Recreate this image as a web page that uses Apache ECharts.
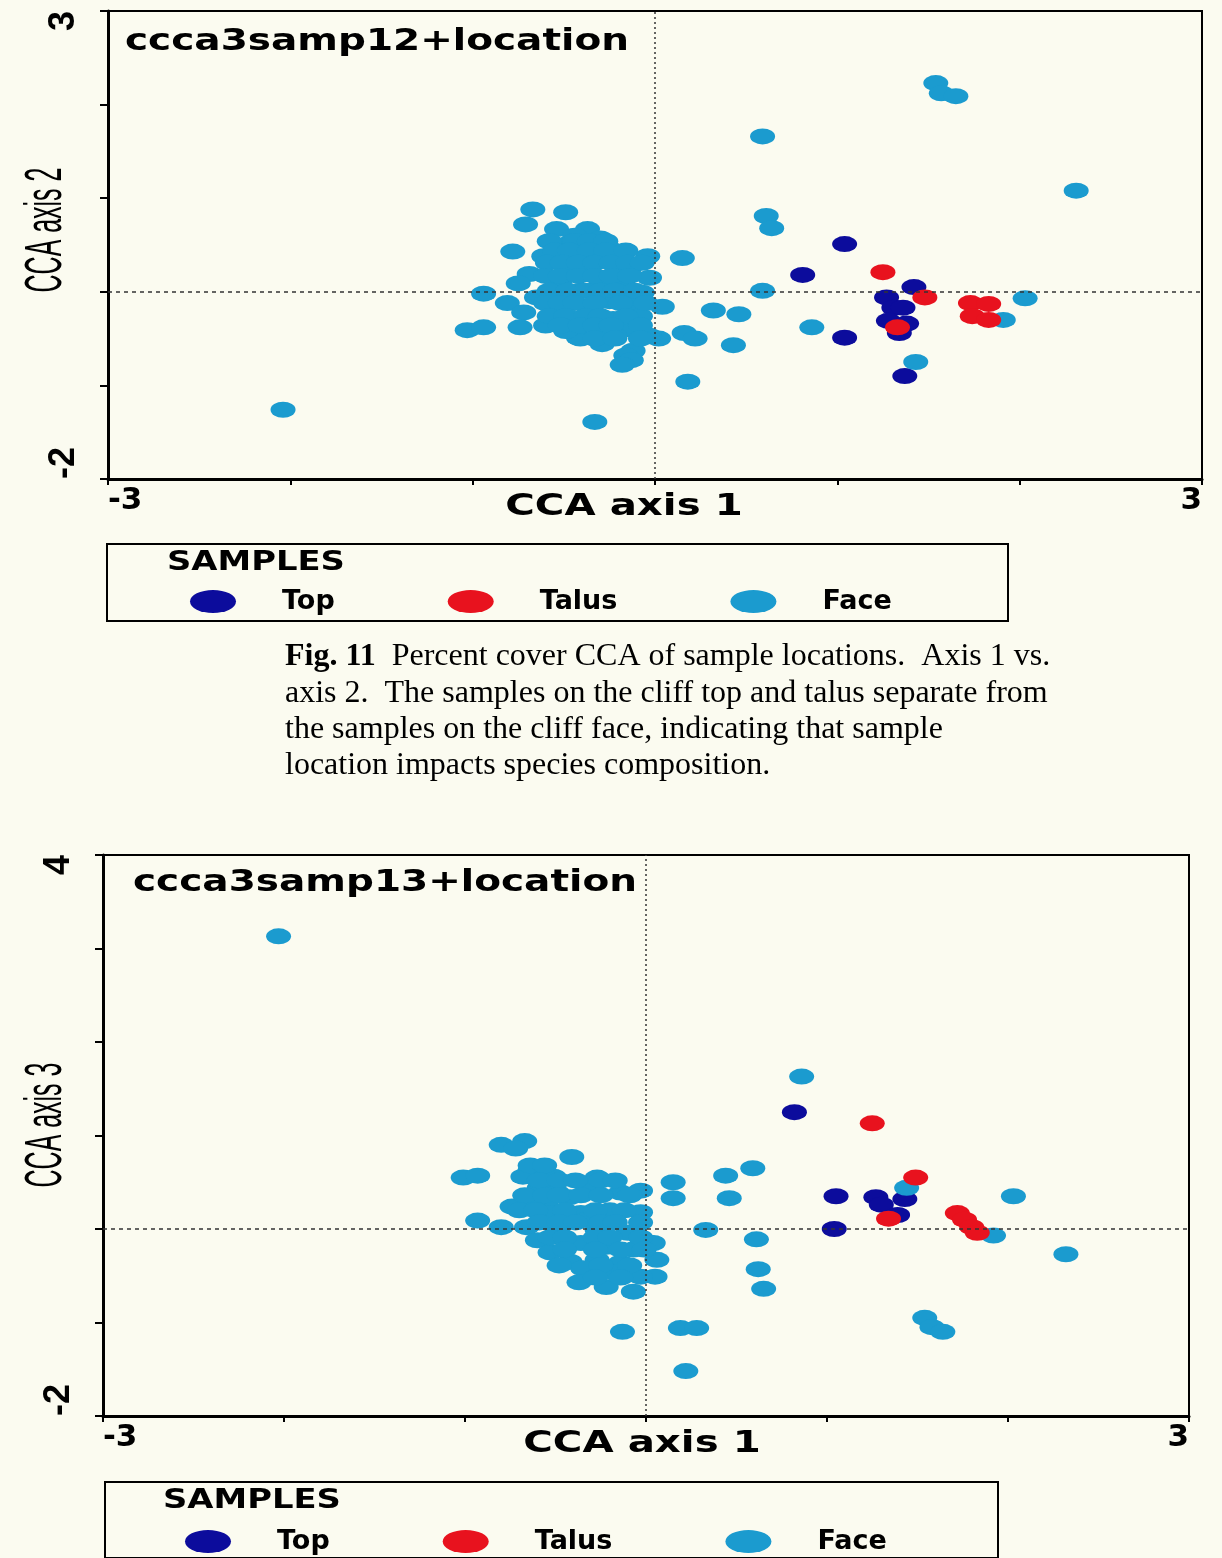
<!DOCTYPE html>
<html>
<head>
<meta charset="utf-8">
<script src="https://cdn.jsdelivr.net/npm/echarts@6/dist/echarts.min.js"></script>
<style>
  html, body { margin: 0; padding: 0; background: #fbfbf0; }
  #chart { width: 1222px; height: 1558px; }
</style>
</head>
<body>
<div id="chart"></div>
<script>
// CCA sample scores, axis 1 vs axis 2 (ccca3samp12)
var face12 = [
  [-2.04, -1.26], [-0.33, -1.39], [0.18, -0.96], [0.59, 1.66], [1.54, 2.23], [1.57, 2.12],
  [1.65, 2.09], [2.31, 1.08], [0.61, 0.81], [0.64, 0.68], [0.59, 0.01], [0.86, -0.38],
  [1.43, -0.75], [2.03, -0.07], [1.91, -0.30], [0.43, -0.57], [0.46, -0.24], [0.32, -0.20],
  [0.15, 0.36], [0.16, -0.44], [0.22, -0.50], [0.02, -0.50], [0.04, -0.16], [-0.04, 0.38],
  [-0.03, 0.15],
  [-0.67, 0.88], [-0.49, 0.85], [-0.71, 0.72], [-0.54, 0.67], [-0.37, 0.67], [-0.78, 0.43],
  [-0.30, 0.57], [-0.48, 0.51], [-0.61, 0.38], [-0.23, 0.44], [-0.69, 0.19], [-0.75, 0.09],
  [-0.14, 0.25], [-0.43, 0.25], [-0.30, 0.06], [-0.18, -0.01], [-0.52, -0.04], [-0.65, -0.06],
  [-0.81, -0.12], [-0.07, -0.01], [-0.12, -0.15], [-0.36, -0.18], [-0.54, -0.22], [-0.72, -0.22],
  [-0.23, -0.29], [-0.43, -0.29], [-0.74, -0.38], [-0.15, -0.40], [-0.03, -0.47], [-0.29, -0.47],
  [-0.42, -0.49], [-0.12, -0.63], [-0.94, -0.02], [-1.03, -0.41], [-0.94, -0.38], [-0.41, -0.50],
  [-0.29, -0.56], [-0.16, -0.68], [-0.13, -0.73], [-0.18, -0.78],
  [-0.38, 0.49], [-0.30, 0.38], [-0.52, 0.12], [-0.41, 0.01], [-0.25, -0.10], [-0.33, -0.31],
  [-0.22, -0.47], [-0.60, -0.36], [-0.49, -0.42], [-0.08, -0.26], [-0.58, 0.54], [-0.44, 0.60],
  [-0.19, 0.12],
  [-0.44, 0.54], [-0.36, 0.54], [-0.27, 0.54],
  [-0.55, 0.44], [-0.47, 0.44], [-0.36, 0.44], [-0.27, 0.44], [-0.16, 0.44],
  [-0.59, 0.31], [-0.51, 0.31], [-0.42, 0.31], [-0.33, 0.31], [-0.24, 0.31], [-0.15, 0.31], [-0.07, 0.31],
  [-0.60, 0.17], [-0.52, 0.17], [-0.42, 0.17], [-0.33, 0.17], [-0.24, 0.17], [-0.14, 0.17],
  [-0.58, 0.01], [-0.48, 0.01], [-0.38, 0.01], [-0.30, 0.01], [-0.22, 0.01], [-0.11, 0.01],
  [-0.60, -0.12], [-0.52, -0.12], [-0.44, -0.12], [-0.33, -0.12], [-0.19, -0.12], [-0.05, -0.12],
  [-0.58, -0.26], [-0.49, -0.26], [-0.38, -0.26], [-0.30, -0.26], [-0.16, -0.26],
  [-0.52, -0.36], [-0.41, -0.36], [-0.33, -0.36], [-0.24, -0.36], [-0.08, -0.36],
  [-0.33, -0.50], [-0.22, -0.50], [-0.08, -0.50]
];
var top12 = [
  [1.04, 0.51], [0.81, 0.18], [1.04, -0.49], [1.42, 0.05], [1.27, -0.06], [1.31, -0.17],
  [1.36, -0.17], [1.28, -0.31], [1.38, -0.34], [1.34, -0.44], [1.37, -0.90]
];
var talus12 = [
  [1.25, 0.21], [1.48, -0.06], [1.33, -0.38], [1.73, -0.12], [1.83, -0.13], [1.74, -0.26], [1.83, -0.30]
];

// CCA sample scores, axis 1 vs axis 3 (ccca3samp13)
var face13 = [
  [-2.03, 3.13], [0.86, 1.63], [0.59, 0.65], [0.44, 0.57], [0.15, 0.50], [0.15, 0.33],
  [0.46, 0.33], [1.44, 0.44], [1.92, -0.07], [2.03, 0.35], [2.32, -0.27], [0.33, -0.01],
  [0.61, -0.11], [0.62, -0.43], [0.65, -0.64], [0.19, -1.06], [0.28, -1.06], [1.54, -0.95],
  [1.58, -1.05], [1.64, -1.10], [0.04, -0.15], [0.06, -0.33], [0.05, -0.51], [0.22, -1.52],
  [-0.13, -1.10],
  [-0.80, 0.90], [-0.67, 0.94], [-0.72, 0.86], [-0.41, 0.77], [-1.01, 0.55], [-0.93, 0.57],
  [-0.64, 0.63], [-0.68, 0.56], [-0.51, 0.56], [-0.27, 0.55], [-0.03, 0.41], [-0.93, 0.09],
  [-0.80, 0.02], [-0.74, 0.24], [-0.59, 0.44], [-0.55, 0.29], [-0.42, 0.34], [-0.31, 0.42],
  [-0.14, 0.39], [-0.03, 0.18], [-0.20, 0.20], [-0.36, 0.17], [-0.53, 0.17], [-0.66, 0.02],
  [-0.49, -0.01], [-0.27, -0.01], [-0.10, -0.04], [0.02, -0.15], [-0.60, -0.12], [-0.53, -0.25],
  [-0.36, -0.15], [-0.22, -0.19], [-0.07, -0.22], [-0.42, -0.35], [-0.27, -0.33], [-0.14, -0.36],
  [-0.35, -0.42], [-0.18, -0.46], [-0.03, -0.51], [-0.37, -0.57], [-0.22, -0.62], [-0.07, -0.67],
  [-0.49, 0.39], [-0.33, 0.10], [-0.62, 0.31],
  [-0.64, 0.68], [-0.56, 0.68],
  [-0.59, 0.52], [-0.48, 0.52], [-0.39, 0.52], [-0.25, 0.52], [-0.17, 0.52],
  [-0.67, 0.36], [-0.56, 0.36], [-0.48, 0.36], [-0.36, 0.36], [-0.25, 0.36], [-0.09, 0.36],
  [-0.70, 0.20], [-0.61, 0.20], [-0.45, 0.20], [-0.28, 0.20], [-0.12, 0.20],
  [-0.59, 0.07], [-0.48, 0.07], [-0.39, 0.07], [-0.25, 0.07], [-0.17, 0.07], [-0.03, 0.07],
  [-0.53, -0.09], [-0.45, -0.09], [-0.28, -0.09], [-0.20, -0.09], [-0.03, -0.09],
  [-0.45, -0.22], [-0.28, -0.22], [-0.14, -0.22], [-0.01, -0.22],
  [-0.48, -0.39], [-0.25, -0.39], [-0.09, -0.39],
  [-0.28, -0.52], [-0.14, -0.52]
];
var top13 = [
  [0.82, 1.25], [1.05, 0.35], [1.27, 0.34], [1.30, 0.26], [1.43, 0.32], [1.39, 0.15], [1.04, 0.00]
];
var talus13 = [
  [1.25, 1.13], [1.49, 0.55], [1.34, 0.11], [1.72, 0.17], [1.76, 0.10], [1.80, 0.02], [1.83, -0.04]
];

var xTicks = [-3, 3];
var yTicks12 = [-2, 3];
var yTicks13 = [-2, 4];
var legendNames = ['Top', 'Talus', 'Face'];
var colors = { Top: '#0c0c9c', Talus: '#e8121e', Face: '#1b9bcf' };

var dot = 'path://M0,8A12,8 0 1,1 24,8A12,8 0 1,1 0,8Z';
var legendDot = 'path://M0,6A12,6 0 1,1 24,6A12,6 0 1,1 0,6Z';

var myChart = echarts.init(document.getElementById('chart'));

function xAxisFor(gi) {
  return {
    gridIndex: gi, type: 'value', min: xTicks[0], max: xTicks[1], interval: 1,
    axisLine: { show: true, onZero: false, lineStyle: { color: '#000', width: 3 } },
    axisTick: { show: true, length: 6, lineStyle: { color: '#000', width: 2 } },
    splitLine: { show: false },
    axisLabel: {
      formatter: function (v) { return xTicks.indexOf(v) >= 0 ? String(v) : ''; },
      showMinLabel: true, showMaxLabel: true,
      alignMinLabel: 'left', alignMaxLabel: 'right',
      fontFamily: 'DejaVu Sans', fontWeight: 'bold', fontSize: 31, color: '#000', margin: 6
    }
  };
}

function yAxisFor(gi, ticks) {
  return {
    gridIndex: gi, type: 'value', min: ticks[0], max: ticks[1], interval: 1,
    axisLine: { show: true, onZero: false, lineStyle: { color: '#000', width: 3 } },
    axisTick: { show: true, length: 8, lineStyle: { color: '#000', width: 2 } },
    splitLine: { show: false },
    axisLabel: {
      formatter: function (v) { return ticks.indexOf(v) >= 0 ? String(v) : ''; },
      showMinLabel: true, showMaxLabel: true,
      rotate: 90, alignMinLabel: 'left', alignMaxLabel: 'right',
      fontFamily: 'Liberation Sans', fontWeight: 'bold', fontSize: 36, color: '#000', margin: 26
    }
  };
}

function pts(name, data, gi, withLines) {
  var s = {
    name: name, type: 'scatter', xAxisIndex: gi, yAxisIndex: gi,
    data: data, symbol: dot, symbolSize: [25, 16], silent: true,
    itemStyle: { color: colors[name], opacity: 1 }
  };
  if (withLines) {
    s.markLine = {
      silent: true, symbol: ['none', 'none'], label: { show: false },
      lineStyle: { color: '#333', width: 1.5 },
      data: [
        { xAxis: 0, lineStyle: { type: [2, 3] } },
        { yAxis: 0, lineStyle: { type: [4, 4] } }
      ]
    };
  }
  return s;
}

function legendAt(left, top) {
  return {
    data: legendNames, left: left, top: top, orient: 'horizontal',
    icon: legendDot, itemWidth: 46, itemHeight: 24, itemGap: 113, selectedMode: false,
    textStyle: { fontFamily: 'DejaVu Sans', fontWeight: 'bold', fontSize: 27, color: '#000', padding: [0, 0, 0, 41] }
  };
}

function txt(x, y, text, font, extra) {
  var e = {
    type: 'text', x: x, y: y,
    style: { text: text, font: font, fill: '#000', align: 'left', verticalAlign: 'middle' }
  };
  for (var k in extra) e[k] = extra[k];
  return e;
}

var serifFont = '32px "Liberation Serif"';

myChart.setOption({
  backgroundColor: '#fbfbf0',
  animation: false,
  grid: [
    { left: 108, top: 11, width: 1094, height: 468, show: true, borderColor: '#000', borderWidth: 2, outerBoundsMode: 'none' },
    { left: 103, top: 855, width: 1086, height: 561, show: true, borderColor: '#000', borderWidth: 2, outerBoundsMode: 'none' }
  ],
  xAxis: [xAxisFor(0), xAxisFor(1)],
  yAxis: [yAxisFor(0, yTicks12), yAxisFor(1, yTicks13)],
  legend: [legendAt(185, 583), legendAt(180, 1523)],
  series: [
    pts('Top', top12, 0), pts('Face', face12, 0), pts('Talus', talus12, 0, true),
    pts('Top', top13, 1), pts('Face', face13, 1), pts('Talus', talus13, 1, true)
  ],
  graphic: { elements: [
    // top panel texts
    txt(125, 42, 'ccca3samp12+location', 'bold 30px "DejaVu Sans"', { scaleX: 1.3 }),
    { type: 'text', x: 624, y: 507, scaleX: 1.3,
      style: { text: 'CCA axis 1', font: 'bold 31px "DejaVu Sans"', fill: '#000', align: 'center', verticalAlign: 'middle' } },
    { type: 'text', x: 47, y: 230, rotation: Math.PI / 2, scaleX: 0.48,
      style: { text: 'CCA axis 2', font: '52px "Liberation Sans"', fill: '#000', align: 'center', verticalAlign: 'middle' } },
    { type: 'rect', shape: { x: 107, y: 544, width: 901, height: 77 },
      style: { fill: 'none', stroke: '#000', lineWidth: 2 } },
    txt(167, 563, 'SAMPLES', 'bold 26px "DejaVu Sans"', { scaleX: 1.3 }),

    // caption
    { type: 'text', x: 285, y: 657,
      style: { text: '{b|Fig. 11}  Percent cover CCA of sample locations.  Axis 1 vs.', font: serifFont, fill: '#000', verticalAlign: 'middle',
        rich: { b: { fontFamily: 'Liberation Serif', fontSize: 32, fontWeight: 'bold', fill: '#000' } } } },
    txt(285, 694, 'axis 2.  The samples on the cliff top and talus separate from', serifFont, {}),
    txt(285, 730, 'the samples on the cliff face, indicating that sample', serifFont, {}),
    txt(285, 766, 'location impacts species composition.', serifFont, {}),

    // bottom panel texts
    txt(133, 883, 'ccca3samp13+location', 'bold 30px "DejaVu Sans"', { scaleX: 1.3 }),
    { type: 'text', x: 642, y: 1444, scaleX: 1.3,
      style: { text: 'CCA axis 1', font: 'bold 31px "DejaVu Sans"', fill: '#000', align: 'center', verticalAlign: 'middle' } },
    { type: 'text', x: 47, y: 1125, rotation: Math.PI / 2, scaleX: 0.48,
      style: { text: 'CCA axis 3', font: '52px "Liberation Sans"', fill: '#000', align: 'center', verticalAlign: 'middle' } },
    { type: 'rect', shape: { x: 105, y: 1482, width: 893, height: 76 },
      style: { fill: 'none', stroke: '#000', lineWidth: 2 } },
    txt(163, 1501, 'SAMPLES', 'bold 26px "DejaVu Sans"', { scaleX: 1.3 })
  ] }
});
</script>
</body>
</html>
